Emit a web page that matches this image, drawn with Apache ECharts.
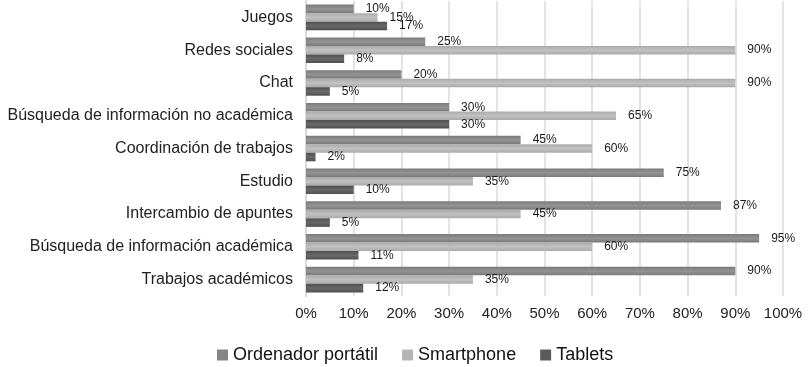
<!DOCTYPE html>
<html>
<head>
<meta charset="utf-8">
<script src="https://cdn.jsdelivr.net/npm/echarts@6/dist/echarts.min.js"></script>
<style>
  html, body { margin: 0; padding: 0; background: #fff; }
  #chart { width: 809px; height: 367px; }
</style>
</head>
<body>
<div id="chart"></div>
<script>
// categories from top to bottom
const categories = [
  "Juegos",
  "Redes sociales",
  "Chat",
  "Búsqueda de información no académica",
  "Coordinación de trabajos",
  "Estudio",
  "Intercambio de apuntes",
  "Búsqueda de información académica",
  "Trabajos académicos"
];
const seriesNames = ["Ordenador portátil", "Smartphone", "Tablets"];
const portatil = [10, 25, 20, 30, 45, 75, 87, 95, 90];
const smartphone = [15, 90, 90, 65, 60, 35, 45, 60, 35];
const tablets = [17, 8, 5, 30, 2, 10, 5, 11, 12];
const xTicks = [0, 10, 20, 30, 40, 50, 60, 70, 80, 90, 100];

const font = "Liberation Sans, Arial, sans-serif";

function grad(edge, mid) {
  return new echarts.graphic.LinearGradient(0, 0, 0, 1, [
    { offset: 0, color: edge },
    { offset: 0.5, color: mid },
    { offset: 1, color: edge }
  ]);
}

const colors = [
  grad("#7a7a7a", "#939393"),
  grad("#a9a9a9", "#c2c2c2"),
  grad("#4f4f4f", "#696969")
];
const legendColors = ["#858585", "#b5b5b5", "#5a5a5a"];

const myChart = echarts.init(document.getElementById("chart"));

const makeSeries = (name, data, i) => ({
  name: name,
  type: "bar",
  data: data,
  barGap: "0%",
  barCategoryGap: "22%",
  itemStyle: { color: colors[i] },
  label: {
    show: true,
    position: "right",
    distance: 12,
    formatter: "{c}%",
    fontFamily: font,
    fontSize: 12,
    color: "#1a1a1a"
  },
  emphasis: { disabled: true }
});

const option = {
  animation: false,
  color: legendColors,
  grid: { left: 306, right: 26, top: 1, height: 295 },
  legend: {
    data: seriesNames.map((n, i) => ({ name: n, itemStyle: { color: legendColors[i] } })),
    top: 341,
    left: 212,
    icon: "rect",
    itemWidth: 11,
    itemHeight: 11,
    itemGap: 24,
    textStyle: { fontFamily: font, fontSize: 18, color: "#111" }
  },
  xAxis: {
    type: "value",
    min: 0,
    max: 100,
    interval: 10,
    axisLine: { show: false },
    axisTick: { show: false },
    splitLine: { lineStyle: { color: "#dfe3ea", width: 2 } },
    axisLabel: {
      margin: 10,
      formatter: v => (xTicks.indexOf(v) >= 0 ? v + "%" : ""),
      fontFamily: font,
      fontSize: 15,
      color: "#222"
    }
  },
  yAxis: {
    type: "category",
    inverse: true,
    data: categories,
    axisLine: { show: true, lineStyle: { color: "#d9d9d9", width: 2 } },
    axisTick: { show: false },
    axisLabel: {
      margin: 13,
      fontFamily: font,
      fontSize: 16,
      color: "#222"
    }
  },
  series: [
    makeSeries(seriesNames[0], portatil, 0),
    makeSeries(seriesNames[1], smartphone, 1),
    makeSeries(seriesNames[2], tablets, 2)
  ]
};

myChart.setOption(option);
</script>
</body>
</html>
